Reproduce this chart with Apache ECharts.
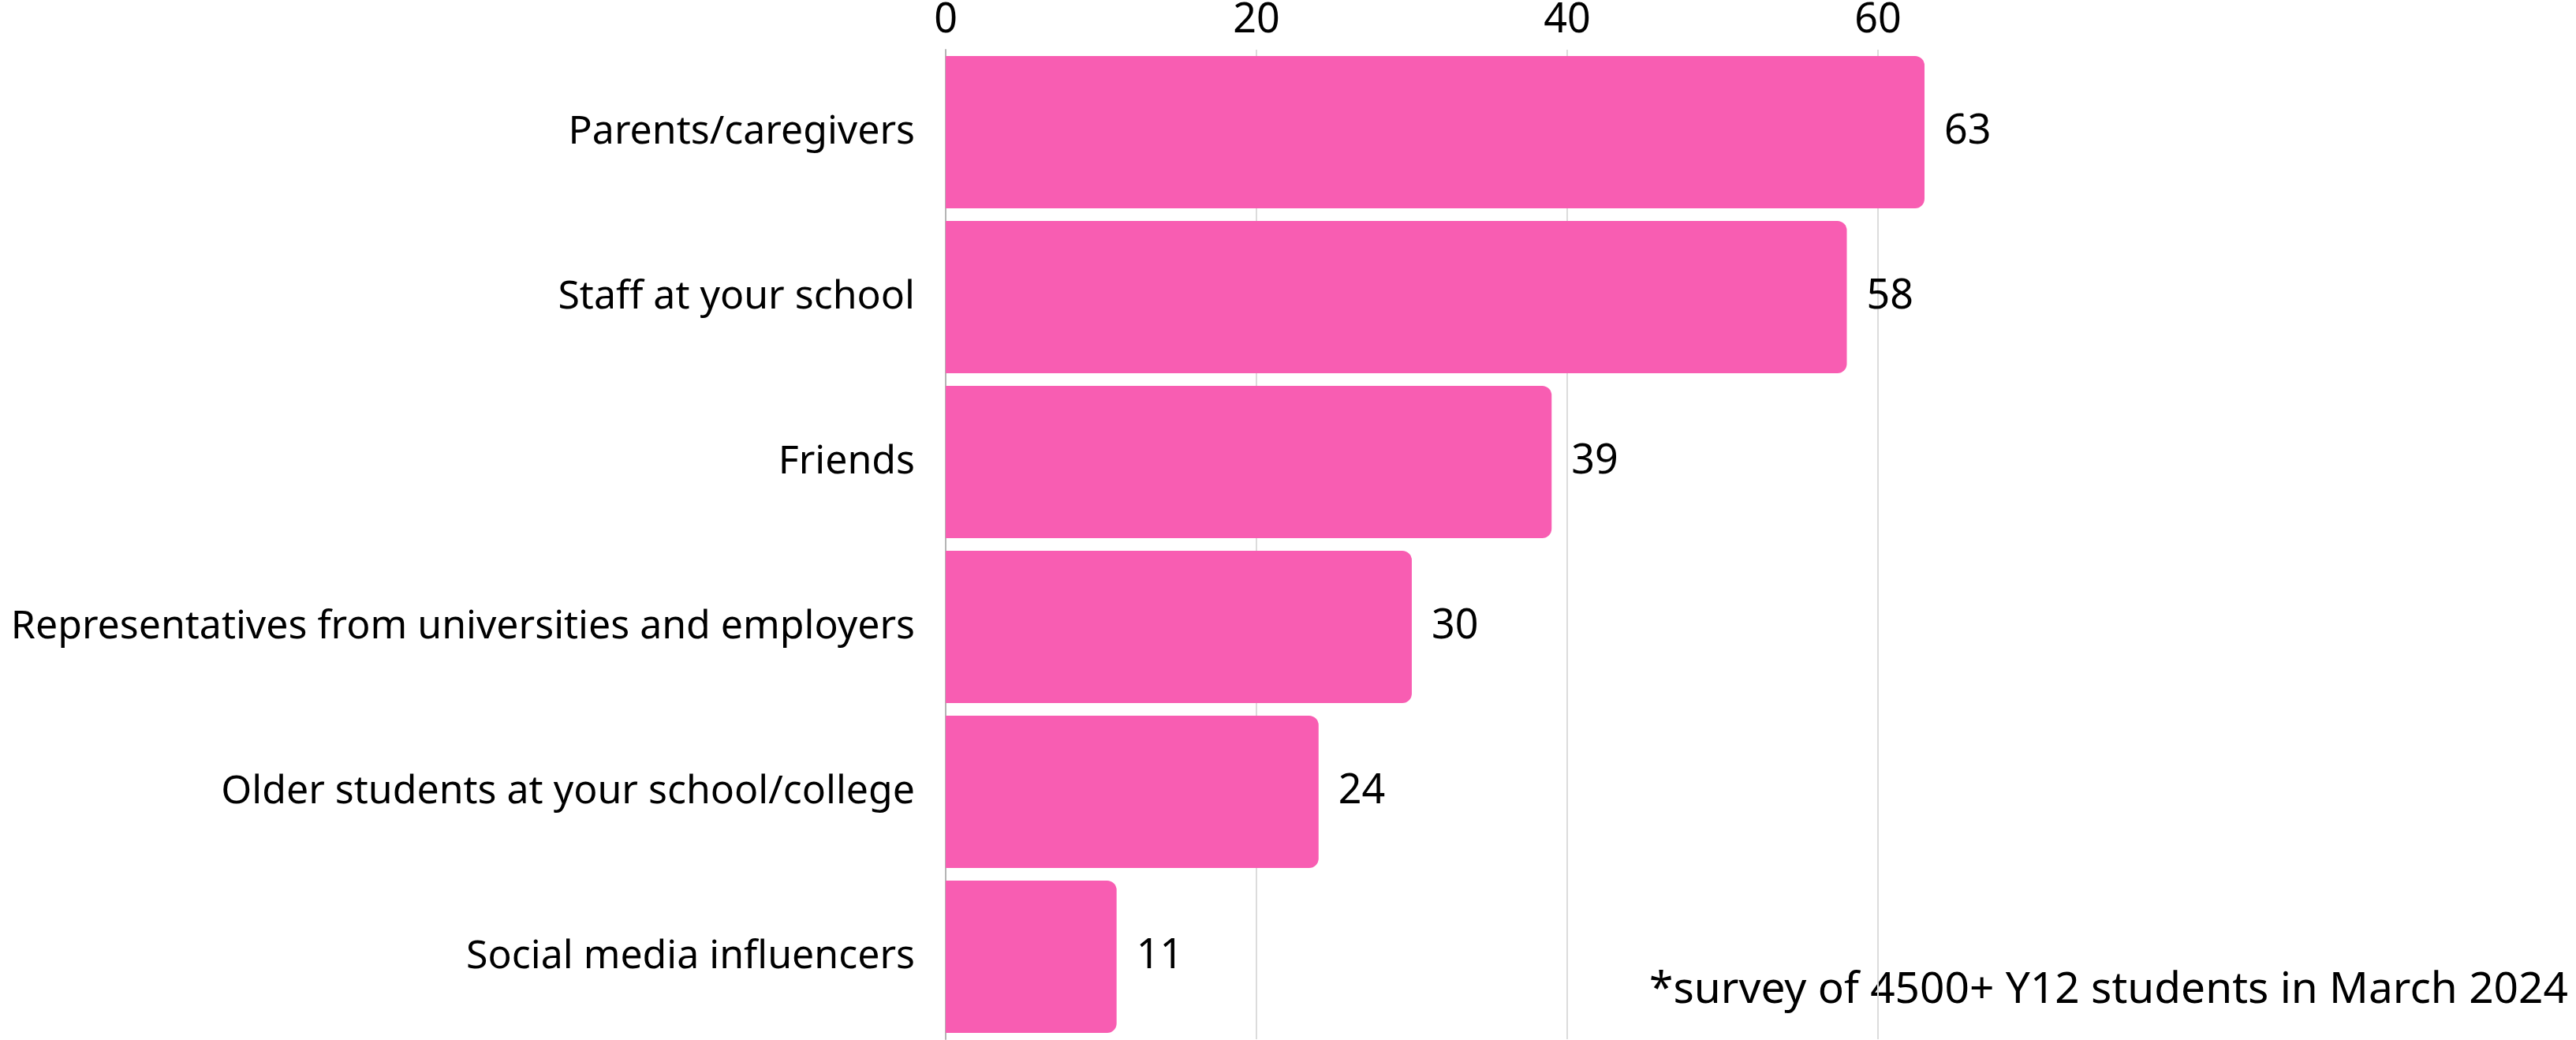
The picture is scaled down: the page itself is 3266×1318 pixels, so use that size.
<!DOCTYPE html>
<html>
<head>
<meta charset="utf-8">
<script src="https://cdn.jsdelivr.net/npm/echarts@6/dist/echarts.min.js"></script>
<style>
  html, body { margin: 0; padding: 0; background: #fff; }
  #chart { width: 3266px; height: 1318px; }
</style>
</head>
<body>
<div id="chart"></div>
<script>
const categories = [
  "Parents/caregivers",
  "Staff at your school",
  "Friends",
  "Representatives from universities and employers",
  "Older students at your school/college",
  "Social media influencers"
];
const values = [63, 58, 39, 30, 24, 11];
const tickStep = 20;
const footnote = "*survey of 4500+ Y12 students in March 2024";

const font = "Noto Sans";
const chart = echarts.init(document.getElementById("chart"));

chart.setOption({
  backgroundColor: "#fff",
  animation: false,
  grid: {
    left: 1199,
    right: 826,
    top: 63,
    bottom: 1,
    containLabel: false
  },
  xAxis: {
    type: "value",
    position: "top",
    min: 0,
    max: 63,
    interval: tickStep,
    axisLine: { show: false },
    axisTick: { show: false },
    axisLabel: {
      showMaxLabel: false,
      margin: 11,
      fontFamily: font,
      fontSize: 52,
      color: "#000"
    },
    splitLine: {
      showMinLine: false,
      showMaxLine: false,
      lineStyle: { color: "#dcdcdc", width: 2 }
    }
  },
  yAxis: {
    type: "category",
    data: categories,
    inverse: true,
    axisLine: { show: true, lineStyle: { color: "#b5b5b5", width: 2 } },
    axisTick: { show: false },
    axisLabel: {
      margin: 39,
      fontFamily: font,
      fontSize: 50,
      color: "#000"
    }
  },
  series: [{
    type: "bar",
    data: values,
    barCategoryGap: "7.7%",
    itemStyle: {
      color: "#f85db2",
      borderRadius: [0, 12, 12, 0]
    },
    label: {
      show: true,
      position: "right",
      distance: 25,
      fontFamily: font,
      fontSize: 52,
      color: "#000"
    }
  }],
  graphic: [{
    type: "text",
    right: 10,
    top: 1228,
    style: {
      text: footnote,
      fontFamily: font,
      fontSize: 55,
      fill: "#000"
    }
  }]
});
</script>
</body>
</html>
